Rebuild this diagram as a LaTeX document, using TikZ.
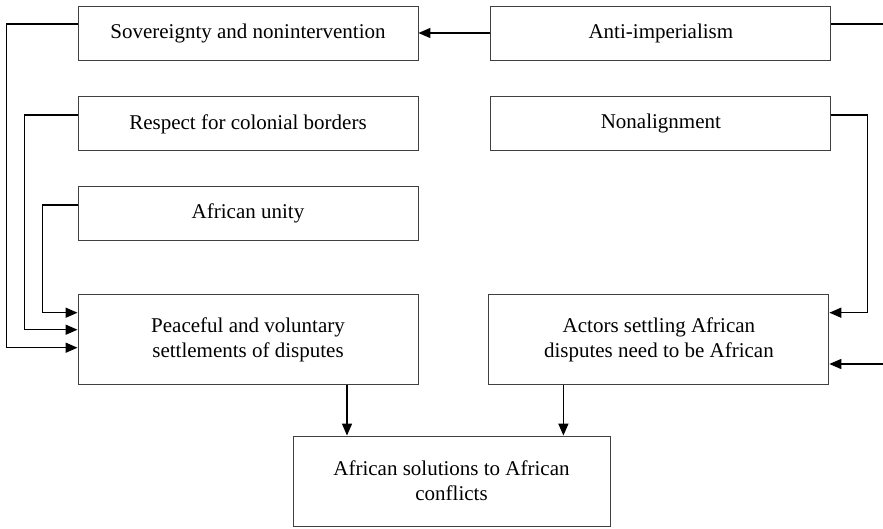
\documentclass[tikz,border=0pt]{standalone}
\usepackage{fontspec}
\setmainfont{Liberation Serif}
\usetikzlibrary{positioning,arrows.meta}
\tikzset{
  box/.style={draw=black!75, line width=0.9pt, minimum width=340pt, minimum height=54pt,
    align=center, inner sep=0pt, font=\fontsize{21}{25}\selectfont},
  tallbox/.style={box, minimum height=90pt},
  wire/.style={line width=1.5pt},
  link/.style={wire, -{Triangle[length=12pt,width=10pt]}}
}
\begin{document}
\begin{tikzpicture}[x=1pt,y=-1pt]
\useasboundingbox (0,0) rectangle (883,528);
\node[box] (sov) at (248,33) {Sovereignty and nonintervention};
\node[box, right=72pt of sov] (anti) {Anti-imperialism};
\node[box, below=36pt of sov] (resp) {Respect for colonial borders};
\node[box, below=36pt of anti] (nonal) {Nonalignment};
\node[box, below=35pt of resp] (unity) {African unity};
\node[tallbox, below=53pt of unity] (peace) {Peaceful and voluntary\\settlements of disputes};
\node[tallbox, right=70pt of peace] (actors) {Actors settling African\\disputes need to be African};
\node[tallbox, minimum width=317pt] (sol) at (451.5,481) {African solutions to African\\conflicts};
\coordinate (outA) at (883,24);
\coordinate (inB) at (883,364);
% left side
\draw[link] (anti) -- (sov);
\draw[link] ([yshift=9pt]sov.west) -- ++(-71,0) |- ([yshift=-8pt]peace.west);
\draw[link] ([yshift=9pt]resp.west) -- ++(-53,0) |- ([yshift=10pt]peace.west);
\draw[link] ([yshift=9pt]unity.west) -- ++(-35,0) |- ([yshift=27pt]peace.west);
% right side
\draw[wire] ([yshift=9pt]anti.east) -- (outA);
\draw[link] ([yshift=9pt]nonal.east) -- ++(36,0) |- ([yshift=27pt]actors.east);
\draw[link] (inB) -- (inB -| actors.east);
% bottom
\draw[link] ([xshift=99pt]peace.south) -- ([xshift=99pt]peace.south |- sol.north);
\draw[link] ([xshift=-95.5pt]actors.south) -- ([xshift=-95.5pt]actors.south |- sol.north);
\end{tikzpicture}
\end{document}
